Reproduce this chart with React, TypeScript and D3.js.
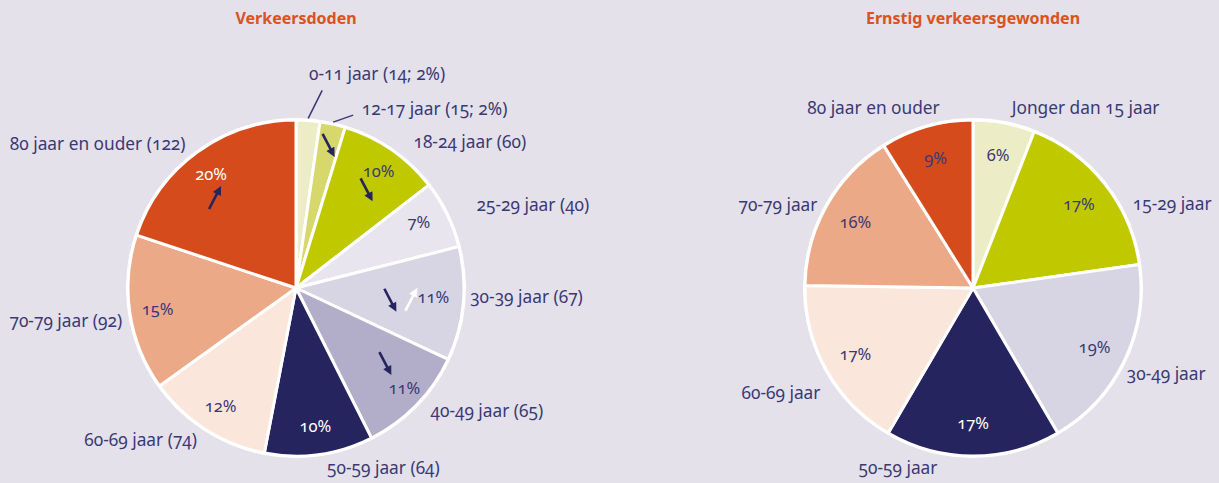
import React from 'react'
import * as d3 from 'd3'

// Verkeersdoden (left pie)
const deathLabels = ['0-11 jaar (14; 2%)', '12-17 jaar (15; 2%)', '18-24 jaar (60)', '25-29 jaar (40)', '30-39 jaar (67)', '40-49 jaar (65)', '50-59 jaar (64)', '60-69 jaar (74)', '70-79 jaar (92)', '80 jaar en ouder (122)']
const deathCounts = [14, 15, 60, 40, 67, 65, 64, 74, 92, 122]
const deathPercents = ['', '', '10%', '7%', '11%', '11%', '10%', '12%', '15%', '20%']
const deathColors = ['#ecedc7', '#d6d86b', '#c0c900', '#e8e5ee', '#d7d5e3', '#b2aec9', '#26245f', '#fae6da', '#eca987', '#d54b1c']
// trend arrows: slice index, direction, colour
const deathArrows = [
  { slice: 1, dir: 'down', color: '#26245f' },
  { slice: 2, dir: 'down', color: '#26245f' },
  { slice: 4, dir: 'down', color: '#26245f' },
  { slice: 4, dir: 'up', color: '#ffffff' },
  { slice: 5, dir: 'down', color: '#26245f' },
  { slice: 9, dir: 'up', color: '#26245f' },
]

// Ernstig verkeersgewonden (right pie)
const injuryLabels = ['Jonger dan 15 jaar', '15-29 jaar', '30-49 jaar', '50-59 jaar', '60-69 jaar', '70-79 jaar', '80 jaar en ouder']
const injuryPercents = [6, 17, 19, 17, 17, 16, 9]
const injuryColors = ['#ecedc7', '#c0c900', '#d7d5e3', '#26245f', '#fae6da', '#eca987', '#d54b1c']

const BG = '#e4e1eb'
const TEXT = '#3a3973'
const TITLE = '#d9531e'
const FONT = '"Noto Sans", "Open Sans", sans-serif'

const W = 1219
const H = 483
const R = 168

// layout tweaks for the outer labels (dx, dy)
const deathNudge = [[0, -33], [26, -1], [14, 4], [17, -3], [-7, -8], [4, -4], [6, 0], [-1, -1], [6, 6], [-4, 3]]
const injuryNudge = [[5, -1], [17, 29], [-10, 7], [-75, -2], [6, 16], [3, 6], [17, -5]]
const deathPctNudge = [[0, 0], [0, 0], [3, -2], [-3, -4], [-2, -4], [8, 3], [0, 0], [0, 0], [0, 0], [-3, 0]]
const arrowNudge = [[2, -6], [-9, 17], [-45, -1], [-24, -2], [-11, -22], [1, 23]]
const leaderEnds = [[14, -28], [20, -7]]

const polar = (a: number, r: number): [number, number] => [r * Math.sin(a), -r * Math.cos(a)]

type PieProps = {
  cx: number
  cy: number
  title: string
  labels: string[]
  values: number[]
  colors: string[]
  pctText: string[]
  whiteOn: string[]
  nudge: number[][]
  pctNudge?: number[][]
  pctR: number
  leaders?: number
}

const Pie = ({ cx, cy, title, labels, values, colors, pctText, whiteOn, nudge, pctNudge, pctR, leaders = 0 }: PieProps) => {
  const arcs = d3.pie<number>().sort(null).value(d => d)(values)
  const arcGen = d3.arc<d3.PieArcDatum<number>>().innerRadius(0).outerRadius(R)

  return (
    <g transform={`translate(${cx},${cy})`}>
      <text x={0} y={-264} textAnchor="middle" fill={TITLE} fontWeight="bold" fontSize={16}>{title}</text>
      <circle r={R + 2} fill="#ffffff" />
      {arcs.map((a, i) => (
        <path key={i} d={arcGen(a) || ''} fill={colors[i]} stroke="#ffffff" strokeWidth={3} strokeLinejoin="round" />
      ))}
      {arcs.map((a, i) => {
        if (!pctText[i]) return null
        const mid = (a.startAngle + a.endAngle) / 2
        const [x, y] = polar(mid, pctR)
        const n = pctNudge ? pctNudge[i] : [0, 0]
        const white = whiteOn.includes(colors[i])
        return (
          <text key={i} x={x + n[0]} y={y + n[1]} dy="0.35em" textAnchor="middle" fontSize={16.5} fill={white ? '#ffffff' : TEXT}>{pctText[i]}</text>
        )
      })}
      {arcs.map((a, i) => {
        const mid = (a.startAngle + a.endAngle) / 2
        const [x, y] = polar(mid, 182)
        const s = Math.sin(mid)
        const anchor = s > 0.05 ? 'start' : s < -0.05 ? 'end' : 'middle'
        return (
          <text key={i} x={x + nudge[i][0]} y={y + nudge[i][1]} dy="0.35em" textAnchor={anchor} fontSize={17.3} fill={TEXT}>{labels[i]}</text>
        )
      })}
      {arcs.slice(0, leaders).map((a, i) => {
        const mid = (a.startAngle + a.endAngle) / 2
        const [x1, y1] = polar(mid, R + 2)
        const e = leaderEnds[i]
        return <line key={i} x1={x1} y1={y1} x2={x1 + e[0]} y2={y1 + e[1]} stroke={TEXT} strokeWidth={1.5} />
      })}
    </g>
  )
}

const Arrow = ({ x, y, dir, color }: { x: number; y: number; dir: string; color: string }) => {
  const vx = 12
  const vy = dir === 'down' ? 23 : -23
  const len = Math.hypot(vx, vy)
  const ux = vx / len
  const uy = vy / len
  const tx = x + vx / 2
  const ty = y + vy / 2
  const sx = x - vx / 2
  const sy = y - vy / 2
  const hl = 9
  const hw = 4.5
  const bx = tx - ux * hl
  const by = ty - uy * hl
  const head = `${tx},${ty} ${bx - uy * hw},${by + ux * hw} ${bx + uy * hw},${by - ux * hw}`
  return (
    <g>
      <line x1={sx} y1={sy} x2={bx + ux * 2} y2={by + uy * 2} stroke={color} strokeWidth={2.6} />
      <polygon points={head} fill={color} />
    </g>
  )
}

export default function App() {
  const lx = 296
  const rx = 973
  const cy = 288
  const deathArcs = d3.pie<number>().sort(null).value(d => d)(deathCounts)

  return (
    <svg width={W} height={H} style={{ position: 'absolute', left: 0, top: 0, fontFamily: FONT, fontVariantNumeric: 'oldstyle-nums' }}>
      <rect width={W} height={H} fill={BG} />
      <Pie cx={lx} cy={cy} title="Verkeersdoden" labels={deathLabels} values={deathCounts} colors={deathColors}
        pctText={deathPercents} whiteOn={['#26245f', '#d54b1c']} nudge={deathNudge} pctNudge={deathPctNudge} pctR={140} leaders={2} />
      <Pie cx={rx} cy={cy} title="Ernstig verkeersgewonden" labels={injuryLabels} values={injuryPercents} colors={injuryColors}
        pctText={injuryPercents.map(d => d + '%')} whiteOn={['#26245f']} nudge={injuryNudge} pctR={135} />
      <g transform={`translate(${lx},${cy})`}>
        {deathArrows.map((ar, i) => {
          const a = deathArcs[ar.slice]
          const [x, y] = polar((a.startAngle + a.endAngle) / 2, 140)
          return <Arrow key={i} x={x + arrowNudge[i][0]} y={y + arrowNudge[i][1]} dir={ar.dir} color={ar.color} />
        })}
      </g>
    </svg>
  )
}
